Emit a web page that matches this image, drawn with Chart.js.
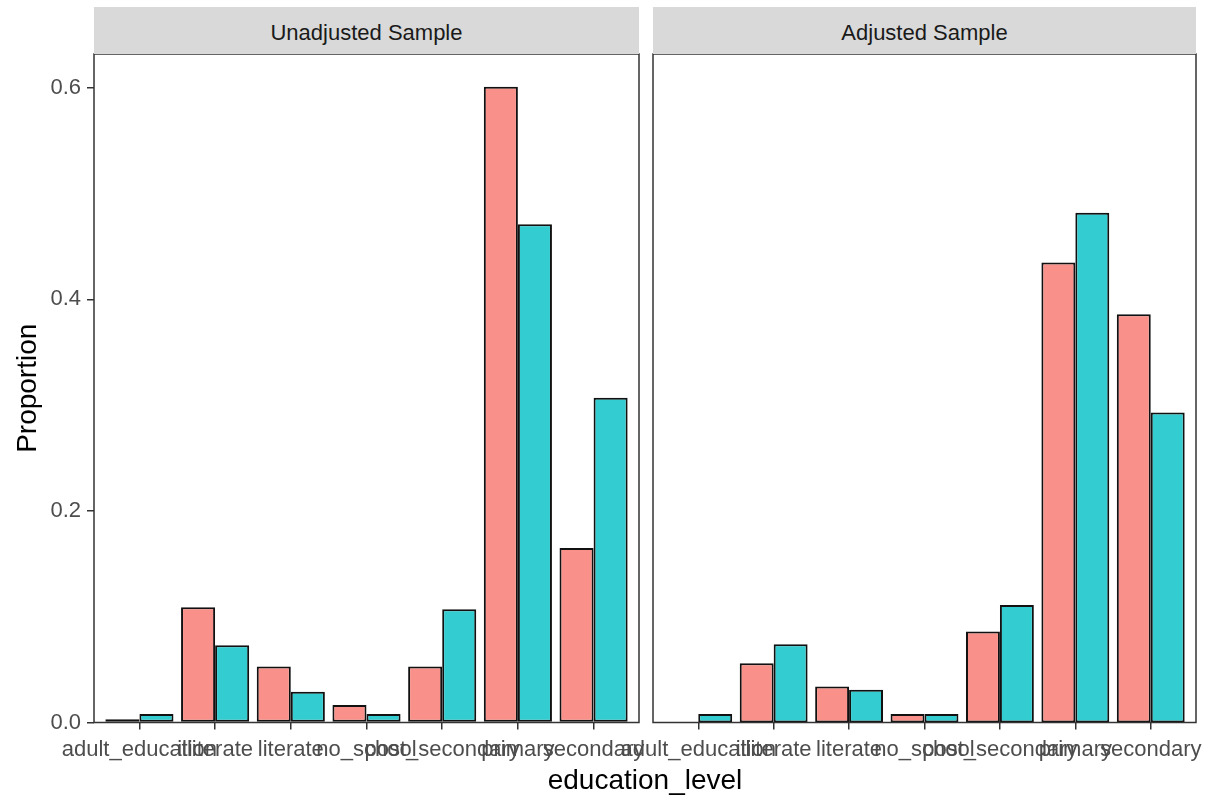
<!DOCTYPE html>
<html>
<head>
<meta charset="utf-8">
<script src="https://cdn.jsdelivr.net/npm/chart.js@4"></script>
<style>
  body { margin: 0; background: #fff; }
  #wrap { position: relative; width: 1208px; height: 796px; overflow: hidden;
          font-family: 'Liberation Sans', Arial, sans-serif; }
  canvas { position: absolute; top: 0; }
  .strip { position: absolute; top: 7px; height: 42px; padding-top: 5px; line-height: 42px;
           background: #D9D9D9; color: #1A1A1A; font-size: 22px; text-align: center; }
  #xtitle { position: absolute; left: 445px; width: 400px; top: 763px; height: 34px;
            line-height: 34px; font-size: 28px; text-align: center; color: #000; }
</style>
</head>
<body>
<div id="wrap">
  <canvas id="left" width="660" height="796" style="left:0;width:660px;height:796px"></canvas>
  <canvas id="right" width="608" height="796" style="left:600px;width:608px;height:796px"></canvas>
  <div class="strip" style="left:94px;width:545px">Unadjusted Sample</div>
  <div class="strip" style="left:653px;width:543px">Adjusted Sample</div>
  <div id="xtitle">education_level</div>
</div>
<script>
// ── Data ────────────────────────────────────────────────

const categories = ['adult_education', 'illiterate', 'literate', 'no_school',
                    'post_secondary', 'primary', 'secondary'];
const yTicks = [0, 0.2, 0.4, 0.6];

const unadjustedSample = [0.003, 0.109, 0.053, 0.0165, 0.053, 0.601, 0.165];
const unadjustedTarget = [0.008, 0.073, 0.029, 0.008, 0.107, 0.471, 0.307];
const adjustedSample = [0, 0.056, 0.034, 0.008, 0.086, 0.435, 0.386];
const adjustedTarget = [0.008, 0.074, 0.031, 0.008, 0.111, 0.482, 0.293];

const COLORS = { sample: '#F9918A', target: '#33CCD0' };
const FONT = "'Liberation Sans', Arial, sans-serif";

// ── Helpers ─────────────────────────────────────────────

// ggplot style panel border on top of the bars
const panelFrame = {
  id: 'panelFrame',
  afterDraw(chart) {
    const { ctx, chartArea: a } = chart;
    ctx.save();
    ctx.strokeStyle = '#333333';
    ctx.lineWidth = 1.5;
    ctx.strokeRect(a.left, a.top, a.right - a.left, a.bottom - a.top);
    ctx.restore();
  },
};

function toPoints(vals) {
  return vals.map((v, i) => ({ x: i + 1, y: v }));
}

function barSet(vals, color) {
  return {
    data: toPoints(vals),
    backgroundColor: color,
    borderColor: '#111',
    borderWidth: 2,
    borderSkipped: false,
    categoryPercentage: 0.9,
    barPercentage: 1.0,
  };
}

function makePanel(canvas, sampleVals, targetVals, showY) {
  return new Chart(canvas, {
    type: 'bar',
    data: { datasets: [barSet(sampleVals, COLORS.sample), barSet(targetVals, COLORS.target)] },
    plugins: [panelFrame],
    options: {
      responsive: false,
      animation: false,
      layout: { padding: { top: 54, left: showY ? 0 : 53, right: showY ? 21 : 12, bottom: 0 } },
      plugins: { legend: { display: false }, tooltip: { enabled: false } },
      scales: {
        x: {
          type: 'linear',
          offset: false,
          min: 0.4,
          max: categories.length + 0.6,
          afterBuildTicks: s => { s.ticks = categories.map((c, i) => ({ value: i + 1 })); },
          // labels overlap the neighbours like in ggplot, so no extra side padding
          afterFit: s => { s.height = 73.5; s.paddingLeft = 0; s.paddingRight = 0; },
          grid: { offset: false, drawOnChartArea: false, drawTicks: true, tickLength: 7, color: '#333', lineWidth: 1.5 },
          border: { display: false },
          ticks: {
            autoSkip: false, maxRotation: 0, padding: 7, color: '#4D4D4D',
            font: { family: FONT, size: 22 },
            callback: v => categories[v - 1],
          },
        },
        y: {
          display: showY,
          min: 0,
          max: 0.632,
          afterBuildTicks: s => { s.ticks = yTicks.map(v => ({ value: v })); },
          afterFit: s => { s.width = showY ? 94 : 0; s.paddingTop = 0; s.paddingBottom = 0; },
          grid: { drawOnChartArea: false, drawTicks: true, tickLength: 7, color: '#333', lineWidth: 1.5 },
          border: { display: false },
          title: {
            display: true, text: 'Proportion', color: '#000',
            font: { family: FONT, size: 28 }, padding: { top: 11, bottom: 0 },
          },
          ticks: {
            padding: 6, color: '#4D4D4D',
            font: { family: FONT, size: 22 },
            callback: v => v.toFixed(1),
          },
        },
      },
    },
  });
}

makePanel(document.getElementById('left'), unadjustedSample, unadjustedTarget, true);
makePanel(document.getElementById('right'), adjustedSample, adjustedTarget, false);
</script>
</body>
</html>
